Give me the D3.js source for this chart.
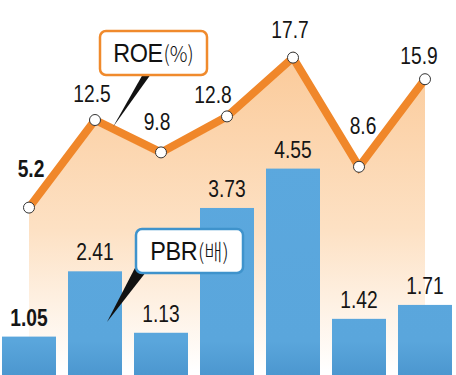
<!DOCTYPE html>
<html>
<head>
<meta charset="utf-8">
<script src="https://cdn.jsdelivr.net/npm/d3@7"></script>
<style>
  html, body { margin: 0; padding: 0; background: #fff; }
  svg { display: block; }
  .num { font-family: "Liberation Sans", Arial, sans-serif; font-size: 24px; fill: #151515; }
</style>
</head>
<body>
<svg width="456" height="375"></svg>
<script>
// categories (unlabelled periods in the source graphic)
var periods = ["p1", "p2", "p3", "p4", "p5", "p6", "p7"];
// ROE (%) line values
var roe = [5.2, 12.5, 9.8, 12.8, 17.7, 8.6, 15.9];
// PBR (times) bar values
var pbr = [1.05, 2.41, 1.13, 3.73, 4.55, 1.42, 1.71];
var roeText = ["5.2", "12.5", "9.8", "12.8", "17.7", "8.6", "15.9"];
var pbrText = ["1.05", "2.41", "1.13", "3.73", "4.55", "1.42", "1.71"];

// little nudges for the ROE labels, as in the source
var roeDx = [2, -3, -4, -14, -3, 4, -6];
var roeDy = [31, 18, 22, 13, 20, 33, 15];

var squeeze = 0.8; // condensed look of the numbers

window.addEventListener("DOMContentLoaded", function () {
    draw();
});

function draw() {
    var svg = d3.select("svg");

    var x = d3.scaleBand()
        .domain(periods)
        .range([-4, 458])
        .paddingInner(12 / 66)
        .paddingOuter(6 / 66);

    var yBar = d3.scaleLinear().domain([0, 5]).range([387, 147]);
    var yRoe = d3.scaleLinear().domain([0, 20]).range([270, 30]);

    var cx = function (d, i) { return x(periods[i]) + x.bandwidth() / 2; };

    var defs = svg.append("defs");
    var ag = defs.append("linearGradient")
        .attr("id", "areaGrad")
        .attr("gradientUnits", "userSpaceOnUse")
        .attr("x1", 0).attr("y1", 60).attr("x2", 0).attr("y2", 370);
    ag.append("stop").attr("offset", 0).attr("stop-color", "#fbcb9b");
    ag.append("stop").attr("offset", 0.55).attr("stop-color", "#fde1c4");
    ag.append("stop").attr("offset", 1).attr("stop-color", "#ffffff");

    var bg = defs.append("linearGradient")
        .attr("id", "barGrad")
        .attr("gradientUnits", "userSpaceOnUse")
        .attr("x1", 0).attr("y1", 150).attr("x2", 0).attr("y2", 375);
    bg.append("stop").attr("offset", 0).attr("stop-color", "#5ba8de");
    bg.append("stop").attr("offset", 0.85).attr("stop-color", "#5aa6dc");
    bg.append("stop").attr("offset", 1).attr("stop-color", "#4c97cf");

    // area under the ROE line
    var area = d3.area()
        .x(cx)
        .y0(375)
        .y1(function (d) { return yRoe(d) + 4; });

    svg.append("path")
        .datum(roe)
        .attr("d", area)
        .attr("fill", "url(#areaGrad)");

    // bars
    svg.selectAll(".bar")
        .data(pbr)
        .enter()
        .append("rect")
        .attr("class", "bar")
        .attr("x", function (d, i) { return x(periods[i]); })
        .attr("y", function (d) { return yBar(d); })
        .attr("width", x.bandwidth())
        .attr("height", function (d) { return yBar(0) - yBar(d); })
        .attr("fill", "url(#barGrad)");

    svg.selectAll(".pbr-label")
        .data(pbr)
        .enter()
        .append("g")
        .attr("transform", function (d, i) {
            return "translate(" + cx(d, i) + "," + (yBar(d) - 11) + ")";
        })
        .append("text")
        .attr("class", "num")
        .attr("transform", "scale(" + squeeze + ",1)")
        .attr("text-anchor", "middle")
        .style("font-weight", function (d, i) { return i === 0 ? "bold" : "normal"; })
        .text(function (d, i) { return pbrText[i]; });

    // ROE line
    var line = d3.line().x(cx).y(function (d) { return yRoe(d); });

    svg.append("path")
        .datum(roe)
        .attr("d", line)
        .attr("fill", "none")
        .attr("stroke", "#f0872a")
        .attr("stroke-width", 8)
        .attr("stroke-linejoin", "miter");

    svg.selectAll(".dot")
        .data(roe)
        .enter()
        .append("circle")
        .attr("class", "dot")
        .attr("cx", cx)
        .attr("cy", function (d) { return yRoe(d); })
        .attr("r", 5.5)
        .attr("fill", "#fff")
        .attr("stroke", "#333")
        .attr("stroke-width", 1);

    svg.selectAll(".roe-label")
        .data(roe)
        .enter()
        .append("g")
        .attr("transform", function (d, i) {
            return "translate(" + (cx(d, i) + roeDx[i]) + "," + (yRoe(d) - roeDy[i]) + ")";
        })
        .append("text")
        .attr("class", "num")
        .attr("transform", "scale(" + squeeze + ",1)")
        .attr("text-anchor", "middle")
        .style("font-weight", function (d, i) { return i === 0 ? "bold" : "normal"; })
        .text(function (d, i) { return roeText[i]; });

    // callouts
    callout(svg, 100, 31, 107, 44, "#f08a2c", "ROE", "(%)",
        [[143, 74], [151, 74], [113, 127]]);
    callout(svg, 136, 229, 107, 44, "#3f93cc", "PBR", "(배)",
        [[137, 264], [146, 272], [107, 322]]);
}

function callout(svg, bx, by, bw, bh, color, main, unit, wedge) {
    svg.append("path")
        .attr("d", "M" + wedge.join("L") + "Z")
        .attr("fill", "#111");

    svg.append("rect")
        .attr("x", bx).attr("y", by)
        .attr("width", bw).attr("height", bh)
        .attr("rx", 6)
        .attr("fill", "#fff")
        .attr("stroke", color)
        .attr("stroke-width", 2.5);

    var t = svg.append("g")
        .attr("transform", "translate(" + (bx + bw / 2) + "," + (by + 31) + ")")
        .append("text")
        .attr("transform", "scale(0.9,1)")
        .attr("text-anchor", "middle")
        .style("fill", "#111");
    t.append("tspan")
        .style("font-family", "'Liberation Sans', Arial, sans-serif")
        .style("font-size", "26px")
        .style("letter-spacing", "-0.5px")
        .text(main);
    t.append("tspan")
        .style("font-family", "'Noto Sans CJK KR', 'Liberation Sans', sans-serif")
        .style("font-size", "22px")
        .style("font-weight", "300")
        .attr("dx", 1)
        .text(unit);
}
</script>
</body>
</html>
